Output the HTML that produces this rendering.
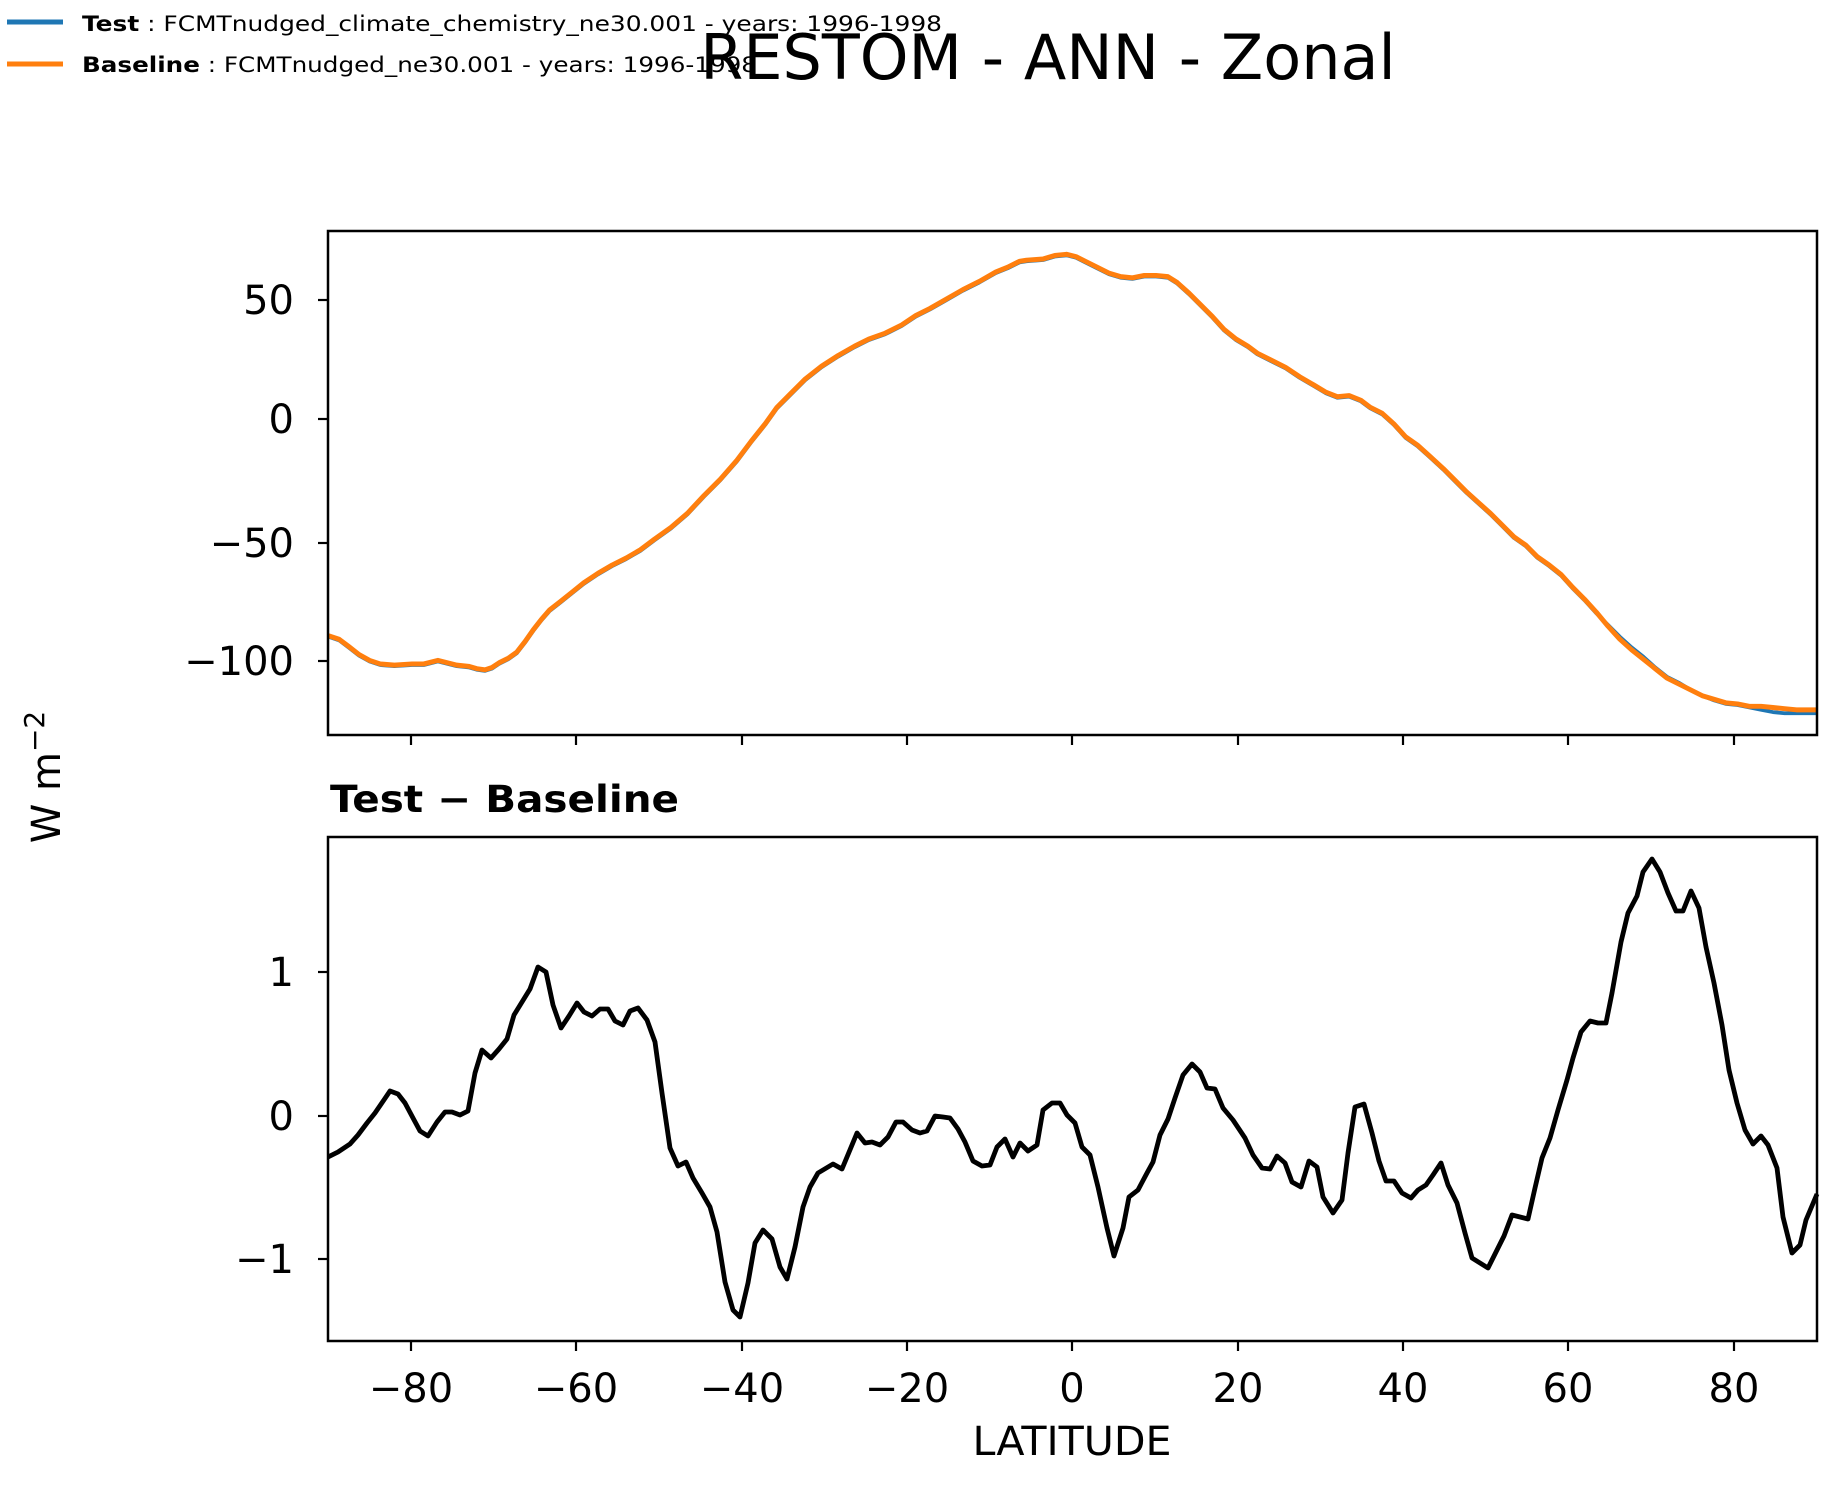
<!DOCTYPE html>
<html><head><meta charset="utf-8"><style>
html,body{margin:0;padding:0;background:#fff;}
svg{display:block;font-family:"DejaVu Sans","Liberation Sans",sans-serif;}
</style></head><body>
<svg width="1845" height="1496" viewBox="0 0 1845 1496" xmlns="http://www.w3.org/2000/svg">
<rect width="1845" height="1496" fill="#fff"/>
<!-- legend -->
<line x1="7" y1="22" x2="63" y2="22" stroke="#1f77b4" stroke-width="5"/>
<line x1="7" y1="64" x2="63" y2="64" stroke="#ff7f0e" stroke-width="5"/>
<text x="82" y="31" font-size="21" textLength="860" lengthAdjust="spacingAndGlyphs"><tspan font-weight="bold">Test</tspan> : FCMTnudged_climate_chemistry_ne30.001 - years: 1996-1998</text>
<text x="82" y="72" font-size="21" textLength="675" lengthAdjust="spacingAndGlyphs"><tspan font-weight="bold">Baseline</tspan> : FCMTnudged_ne30.001 - years: 1996-1998</text>
<!-- title -->
<text x="1048" y="79" font-size="62" text-anchor="middle">RESTOM - ANN - Zonal</text>

<!-- upper curves (display coords scaled) -->
<g transform="scale(1.1772)" fill="none" stroke-linejoin="round">
<path transform="translate(0,0.9)" stroke="#1f77b4" stroke-width="3.2" d="M279,540 L288,543 296,549 305,556 314,561 323,564 335,565 350,564 360,564 372,561 380,563 388,565 398,566 405,568 412,569 418,567 424,563 432,559 439,554 446,545 453,535 460,526 467,518 476,511 486,503 496,495 508,487 520,480 532,474 544,467 556,458 570,448 584,436 598,421 612,407 626,391 638,375 650,360 660,346 672,334 684,322 698,311 712,302 726,294 738,288 752,283 766,276 778,268 790,262 804,254 818,246 832,239 846,231 856,227 866,222 872,221 886,220 896,217 906,216 914,218 922,222 932,227 942,232 952,235 962,236 972,234 982,234 992,235 1000,240 1010,249 1020,259 1030,269 1040,280 1050,288 1060,294 1068,300 1080,306 1092,312 1104,320 1116,327 1126,333 1136,337 1146,336 1156,340 1164,346 1174,351 1184,360 1194,371 1204,378 1214,387 1226,398 1236,408 1246,418 1256,427 1266,436 1276,446 1286,456 1296,463 1306,473 1316,480 1326,488 1336,499 1346,509 1356,520 1366,530 1376,540 1386,549 1396,557 1406,566 1416,574 1426,579 1436,585 1446,590 1456,594 1466,597 1476,598 1486,600 1496,602 1506,604 1516,605 1526,605 1536,605 1543,605"/>
<path stroke="#ff7f0e" stroke-width="4.2" d="M279,540 L288,543 296,549 305,556 314,561 323,564 335,565 350,564 360,564 372,561 380,563 388,565 398,566 405,568 412,569 418,567 424,563 432,559 439,554 446,545 453,535 460,526 467,518 476,511 486,503 496,495 508,487 520,480 532,474 544,467 556,458 570,448 584,436 598,421 612,407 626,391 638,375 650,360 660,346 672,334 684,322 698,311 712,302 726,294 738,288 752,283 766,276 778,268 790,262 804,254 818,246 832,239 846,231 856,227 866,222 872,221 886,220 896,217 906,216 914,218 922,222 932,227 942,232 952,235 962,236 972,234 982,234 992,235 1000,240 1010,249 1020,259 1030,269 1040,280 1050,288 1060,294 1068,300 1080,306 1092,312 1104,320 1116,327 1126,333 1136,337 1146,336 1156,340 1164,346 1174,351 1184,360 1194,371 1204,378 1214,387 1226,398 1236,408 1246,418 1256,427 1266,436 1276,446 1286,456 1296,463 1306,473 1316,480 1326,488 1336,499 1346,509 1356,520 1366,532 1376,543 1386,552 1396,560 1406,568 1416,576 1426,581 1436,586 1446,591 1456,594 1466,597 1476,598 1486,600 1496,600 1506,601 1516,602 1526,603 1536,603 1543,603"/>
</g>

<!-- upper axes frame -->
<rect x="328" y="231" width="1489" height="504" fill="none" stroke="#000" stroke-width="2.5"/>
<g stroke="#000" stroke-width="2.2">
<line x1="318" y1="300" x2="328" y2="300"/><line x1="318" y1="419" x2="328" y2="419"/>
<line x1="318" y1="543" x2="328" y2="543"/><line x1="318" y1="661" x2="328" y2="661"/>
<line x1="411" y1="735" x2="411" y2="745"/><line x1="576" y1="735" x2="576" y2="745"/>
<line x1="742" y1="735" x2="742" y2="745"/><line x1="907" y1="735" x2="907" y2="745"/>
<line x1="1072" y1="735" x2="1072" y2="745"/><line x1="1238" y1="735" x2="1238" y2="745"/>
<line x1="1403" y1="735" x2="1403" y2="745"/><line x1="1568" y1="735" x2="1568" y2="745"/>
<line x1="1734" y1="735" x2="1734" y2="745"/>
</g>
<g font-size="40" text-anchor="end">
<text x="294" y="314">50</text><text x="294" y="433">0</text>
<text x="294" y="557">−50</text><text x="294" y="675">−100</text>
</g>

<!-- lower subplot -->
<text x="330" y="812" font-size="37" font-weight="bold" textLength="349" lengthAdjust="spacingAndGlyphs">Test − Baseline</text>
<path fill="none" stroke="#000" stroke-width="4.8" stroke-linejoin="round" d="M328,1157 L338,1152 350,1144 358,1135 367,1123 375,1113 390,1091 398,1094 405,1103 413,1118 420,1131 428,1136 437,1122 445,1112 452,1112 460,1115 468,1111 475,1073 482,1050 491,1058 499,1049 507,1039 514,1015 522,1002 530,989 538,967 546,972 553,1005 561,1028 569,1016 577,1003 584,1012 592,1016 600,1009 608,1009 615,1021 623,1025 630,1011 638,1008 647,1020 655,1042 662,1093 670,1148 678,1166 686,1162 693,1178 702,1193 710,1207 717,1232 725,1282 733,1310 740,1317 748,1283 755,1243 763,1230 772,1239 780,1267 787,1279 795,1247 803,1207 810,1187 818,1173 828,1167 833,1164 842,1169 857,1133 865,1143 872,1142 880,1145 888,1137 896,1122 903,1122 912,1130 920,1133 927,1131 935,1116 943,1117 950,1118 958,1129 965,1142 973,1161 982,1166 990,1165 997,1147 1005,1139 1013,1157 1020,1143 1028,1151 1037,1145 1043,1110 1052,1103 1060,1103 1067,1115 1075,1123 1082,1147 1090,1155 1098,1187 1107,1228 1114,1256 1123,1228 1129,1197 1138,1190 1147,1173 1153,1162 1160,1135 1168,1119 1175,1098 1183,1075 1192,1064 1200,1072 1207,1088 1215,1089 1223,1108 1233,1120 1245,1138 1253,1155 1262,1168 1270,1169 1277,1156 1285,1163 1292,1182 1301,1187 1309,1161 1317,1167 1323,1197 1333,1213 1342,1200 1348,1153 1355,1107 1364,1104 1372,1133 1379,1161 1386,1181 1394,1181 1402,1193 1411,1198 1418,1190 1426,1185 1433,1175 1441,1163 1448,1185 1457,1203 1465,1233 1472,1258 1488,1268 1497,1250 1504,1236 1512,1215 1528,1219 1535,1188 1542,1158 1550,1138 1558,1110 1567,1080 1573,1058 1581,1032 1590,1021 1598,1023 1606,1023 1612,993 1621,942 1628,913 1637,896 1643,872 1652,859 1660,872 1668,893 1676,911 1683,911 1691,891 1699,908 1706,947 1714,983 1722,1025 1729,1070 1737,1103 1745,1130 1753,1144 1761,1136 1768,1145 1777,1168 1783,1217 1792,1253 1800,1245 1806,1220 1817,1194"/>
<rect x="328" y="837" width="1489" height="504" fill="none" stroke="#000" stroke-width="2.5"/>
<g stroke="#000" stroke-width="2.2">
<line x1="318" y1="972" x2="328" y2="972"/><line x1="318" y1="1116" x2="328" y2="1116"/>
<line x1="318" y1="1259" x2="328" y2="1259"/>
<line x1="411" y1="1341" x2="411" y2="1351"/><line x1="576" y1="1341" x2="576" y2="1351"/>
<line x1="742" y1="1341" x2="742" y2="1351"/><line x1="907" y1="1341" x2="907" y2="1351"/>
<line x1="1072" y1="1341" x2="1072" y2="1351"/><line x1="1238" y1="1341" x2="1238" y2="1351"/>
<line x1="1403" y1="1341" x2="1403" y2="1351"/><line x1="1568" y1="1341" x2="1568" y2="1351"/>
<line x1="1734" y1="1341" x2="1734" y2="1351"/>
</g>
<g font-size="40" text-anchor="end">
<text x="294" y="986">1</text><text x="294" y="1130">0</text><text x="294" y="1273">−1</text>
</g>
<g font-size="40" text-anchor="middle">
<text x="411" y="1402">−80</text><text x="576" y="1402">−60</text><text x="742" y="1402">−40</text>
<text x="907" y="1402">−20</text><text x="1072" y="1402">0</text><text x="1238" y="1402">20</text>
<text x="1403" y="1402">40</text><text x="1568" y="1402">60</text><text x="1734" y="1402">80</text>
</g>
<text x="1072" y="1455" font-size="40" text-anchor="middle" textLength="199" lengthAdjust="spacingAndGlyphs">LATITUDE</text>
<text transform="translate(60,777) rotate(-90)" font-size="40" text-anchor="middle">W m<tspan font-size="28" dy="-16">−2</tspan></text>
</svg>
</body></html>
